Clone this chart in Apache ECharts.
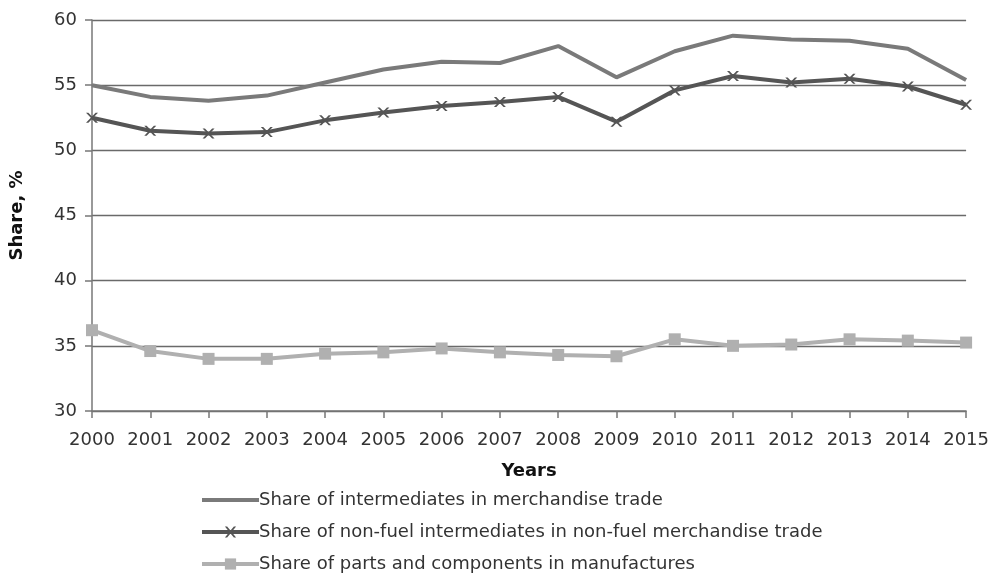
<!DOCTYPE html>
<html>
<head>
<meta charset="utf-8">
<script src="https://cdn.jsdelivr.net/npm/echarts@6/dist/echarts.min.js"></script>
<style>
  html, body { margin: 0; padding: 0; background: #fff; }
  #chart { width: 992px; height: 580px; }
</style>
</head>
<body>
<div id="chart"></div>
<script>
// years on the x axis
const years = ['2000', '2001', '2002', '2003', '2004', '2005', '2006', '2007',
  '2008', '2009', '2010', '2011', '2012', '2013', '2014', '2015']
// share of intermediates in merchandise trade
const intermediates = [55.0, 54.1, 53.8, 54.2, 55.2, 56.2, 56.8, 56.7,
  58.0, 55.6, 57.6, 58.8, 58.5, 58.4, 57.8, 55.4]
// non-fuel intermediates in non-fuel merchandise trade
const nonFuel = [52.5, 51.5, 51.3, 51.4, 52.3, 52.9, 53.4, 53.7,
  54.1, 52.2, 54.6, 55.7, 55.2, 55.5, 54.9, 53.5]
// parts and components in manufactures
const parts = [36.2, 34.6, 34.0, 34.0, 34.4, 34.5, 34.8, 34.5,
  34.3, 34.2, 35.5, 35.0, 35.1, 35.5, 35.4, 35.25]

const seriesNames = [
  'Share of intermediates in merchandise trade',
  'Share of non-fuel intermediates in non-fuel merchandise trade',
  'Share of parts and components in manufactures'
]

const font = 'DejaVu Sans'
const crossPath = 'path://M0,0L2,0L5,3L8,0L10,0L6,4L10,8L8,8L5,5L2,8L0,8L4,4Z'

const chart = echarts.init(document.getElementById('chart'))
chart.setOption({
  animation: false,
  backgroundColor: '#fff',
  textStyle: { fontFamily: font },
  grid: { left: 90, right: 25, top: 20, bottom: 169 },
  legend: {
    orient: 'vertical',
    left: 200,
    top: 491,
    height: 120,
    padding: 0,
    itemGap: 14,
    itemWidth: 57,
    itemHeight: 14,
    textStyle: { fontFamily: font, fontSize: 18, color: '#333', padding: [0, 0, 0, -5] },
    data: [
      { name: seriesNames[0], itemStyle: { opacity: 0 }, lineStyle: { width: 4 } },
      { name: seriesNames[1], lineStyle: { width: 4 } },
      { name: seriesNames[2], lineStyle: { width: 4 } }
    ]
  },
  xAxis: {
    type: 'category',
    data: years,
    boundaryGap: false,
    name: 'Years',
    nameLocation: 'middle',
    nameGap: 51,
    nameTextStyle: { fontFamily: font, fontSize: 18, fontWeight: 'bold', color: '#111' },
    axisLine: { lineStyle: { color: '#777', width: 1.5 } },
    axisTick: { show: true, interval: 0, length: 7, lineStyle: { color: '#777', width: 1.5 } },
    axisLabel: { interval: 0, fontFamily: font, fontSize: 18, color: '#333', margin: 20 },
    splitLine: { show: false }
  },
  yAxis: {
    type: 'value',
    min: 30,
    max: 60,
    interval: 5,
    name: 'Share, %',
    nameLocation: 'middle',
    nameGap: 66,
    nameTextStyle: { fontFamily: font, fontSize: 18, fontWeight: 'bold', color: '#111' },
    axisLine: { show: true, lineStyle: { color: '#777', width: 1.5 } },
    axisTick: { show: true, length: 7, lineStyle: { color: '#777', width: 1.5 } },
    axisLabel: { fontFamily: font, fontSize: 18, color: '#333', margin: 15 },
    splitLine: { lineStyle: { color: '#6a6a6a', width: 1.4 } }
  },
  series: [
    {
      name: seriesNames[0],
      type: 'line',
      data: intermediates,
      symbol: 'none',
      lineStyle: { color: '#7a7a7a', width: 4 },
      itemStyle: { color: '#7a7a7a' }
    },
    {
      name: seriesNames[1],
      type: 'line',
      data: nonFuel,
      symbol: crossPath,
      symbolSize: [12, 10],
      showAllSymbol: true,
      lineStyle: { color: '#555', width: 4 },
      itemStyle: { color: '#555' }
    },
    {
      name: seriesNames[2],
      type: 'line',
      data: parts,
      symbol: 'rect',
      symbolSize: 12,
      showAllSymbol: true,
      lineStyle: { color: '#b0b0b0', width: 4 },
      itemStyle: { color: '#b0b0b0' }
    }
  ]
})
</script>
</body>
</html>
